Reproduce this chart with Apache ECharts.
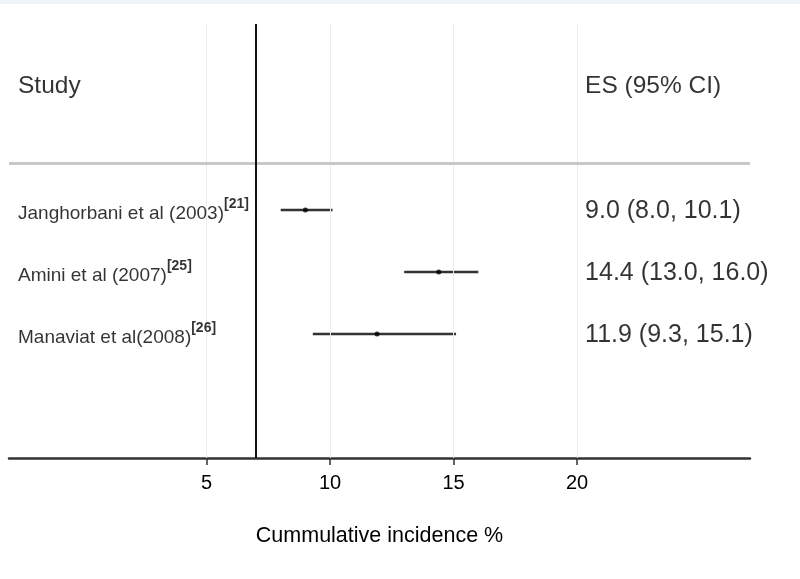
<!DOCTYPE html>
<html>
<head>
<meta charset="utf-8">
<script src="https://cdn.jsdelivr.net/npm/echarts@6/dist/echarts.min.js"></script>
<style>
html,body{margin:0;padding:0;background:#fff;}
#c{width:800px;height:579px;}
</style>
</head>
<body>
<div id="c"></div>
<script>
// ---- data ----
var studies = ['Janghorbani et al (2003)', 'Amini et al (2007)', 'Manaviat et al(2008)'];
var refs = ['[21]', '[25]', '[26]'];
var es = [9.0, 14.4, 11.9];
var lo = [8.0, 13.0, 9.3];
var hi = [10.1, 16.0, 15.1];
var esLabels = ['9.0 (8.0, 10.1)', '14.4 (13.0, 16.0)', '11.9 (9.3, 15.1)'];
var tickValues = [5, 10, 15, 20];
var nullLine = 7;
var headerStudy = 'Study';
var headerES = 'ES (95% CI)';
var xTitle = 'Cummulative incidence %';

// ---- layout helpers (row index positions on the hidden y axis) ----
var rowY = studies.map(function (_, i) { return 3 + i; });
var headerY = 1;
var sepY = 2.25;
var studyColX = -3;
var esColX = 20;
var FONT = '"Liberation Sans", Arial, sans-serif';
var TXT = '#000000';

var chart = echarts.init(document.getElementById('c'), null, {renderer: 'canvas'});

var ciData = studies.map(function (s, i) { return [lo[i], hi[i], rowY[i]]; });
var ptData = studies.map(function (s, i) { return [es[i], rowY[i]]; });
var studyLabelData = studies.map(function (s, i) {
  return {value: [studyColX, rowY[i]], name: s, ref: refs[i]};
});
var esLabelData = esLabels.map(function (s, i) {
  return {value: [esColX, rowY[i]], name: s};
});

var option = {
  backgroundColor: '#ffffff',
  animation: false,
  graphic: [
    {type: 'rect', left: 0, top: 0, shape: {width: 800, height: 4}, style: {fill: '#eef4f7'}, silent: true}
  ],
  grid: {left: 9, right: 50, top: 24, bottom: 121, containLabel: false},
  xAxis: {
    type: 'value', min: -3, max: 27, position: 'bottom',
    axisLine: {show: true, onZero: false, lineStyle: {color: '#333333', width: 2.5}},
    axisTick: {show: true, customValues: tickValues, length: 7, lineStyle: {color: '#333333', width: 1.5}},
    axisLabel: {show: true, customValues: tickValues, color: TXT, fontSize: 20, fontFamily: FONT, margin: 15},
    splitLine: {show: false},
    name: xTitle, nameLocation: 'middle', nameGap: 67,
    nameTextStyle: {color: TXT, fontSize: 21.5, fontFamily: FONT}
  },
  yAxis: {
    type: 'value', min: 0, max: 7, inverse: true, show: false
  },
  series: [
    {
      type: 'line', data: [], silent: true, z: 1,
      markLine: {
        silent: true, symbol: 'none', animation: false,
        label: {show: false},
        lineStyle: {color: '#e4eef4', width: 1, type: 'solid'},
        data: tickValues.map(function (v) { return {xAxis: v}; })
      }
    },
    {
      type: 'line', data: [], silent: true, z: 2,
      markLine: {
        silent: true, symbol: 'none', animation: false,
        label: {show: false},
        lineStyle: {color: '#c8c8c8', width: 3, type: 'solid'},
        data: [{yAxis: sepY}]
      }
    },
    {
      type: 'line', data: [], silent: true, z: 3,
      markLine: {
        silent: true, symbol: 'none', animation: false,
        label: {show: false},
        lineStyle: {color: '#111111', width: 2, type: 'solid'},
        data: [{xAxis: nullLine}]
      }
    },
    {
      type: 'custom', z: 4, silent: true,
      data: ciData,
      encode: {x: [0, 1], y: 2},
      renderItem: function (params, api) {
        var a = api.coord([api.value(0), api.value(2)]);
        var b = api.coord([api.value(1), api.value(2)]);
        return {
          type: 'line',
          shape: {x1: a[0], y1: a[1], x2: b[0], y2: b[1]},
          style: {stroke: '#333333', lineWidth: 2.5}
        };
      }
    },
    {
      type: 'scatter', z: 5, silent: true,
      data: ptData, symbol: 'circle', symbolSize: 5,
      itemStyle: {color: '#000000'}
    },
    {
      type: 'scatter', z: 6, silent: true, symbolSize: 0,
      data: studyLabelData,
      label: {
        show: true, position: 'right', distance: 0, offset: [9, -3],
        formatter: function (p) { return '{n|' + p.data.name + '}{s|' + p.data.ref + '}'; },
        rich: {
          n: {fontSize: 19, fontFamily: FONT, color: TXT, lineHeight: 20, padding: [7, 0, 0, 0], verticalAlign: 'top'},
          s: {fontSize: 14, fontFamily: FONT, fontWeight: 'bold', color: TXT, lineHeight: 14, verticalAlign: 'top'}
        }
      }
    },
    {
      type: 'scatter', z: 6, silent: true, symbolSize: 0,
      data: esLabelData,
      label: {
        show: true, position: 'right', distance: 0, offset: [8, 1],
        formatter: function (p) { return p.data.name; },
        fontSize: 25, fontFamily: FONT, color: TXT
      }
    },
    {
      type: 'scatter', z: 6, silent: true, symbolSize: 0,
      data: [
        {value: [studyColX, headerY], name: headerStudy, off: 9},
        {value: [esColX, headerY], name: headerES, off: 8}
      ],
      label: {
        show: true, position: 'right', distance: 0,
        formatter: function (p) { return p.data.name; },
        fontSize: 24.5, fontFamily: FONT, color: TXT
      }
    }
  ]
};
option.series[7].data.forEach(function (d) { d.label = {offset: [d.off, 0]}; });
chart.setOption(option);
</script>
</body>
</html>
